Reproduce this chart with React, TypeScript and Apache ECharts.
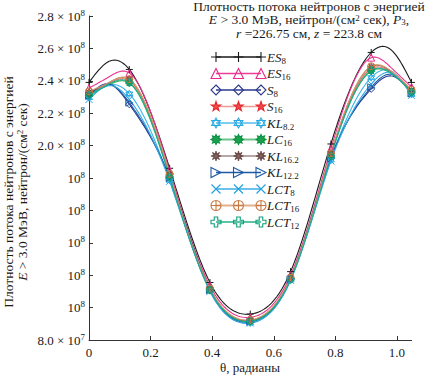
import React, { useEffect, useRef } from 'react';
import * as echarts from 'echarts';

const SERIF = '"Liberation Serif", "Times New Roman", serif';

// θ, radians (marked points every π/24, plus two unmarked curve readings near the peaks)
const theta = [0, 0.0654, 0.1309, 0.2618, 0.3927, 0.5236, 0.6545, 0.7854, 0.9163, 0.9817, 1.0472];
const marked = [true, false, true, true, true, true, true, true, true, false, true];

// Neutron flux density, units of 10^8 neutron/(cm^2 s)
const es8 = [2.39, 2.52, 2.47, 1.86, 1.155, 0.96, 1.222, 2.01, 2.575, 2.59, 2.39];
const es16 = [2.355, 2.425, 2.448, 1.845, 1.135, 0.94, 1.2, 1.98, 2.543, 2.48, 2.362];
const s8 = [2.31, 2.38, 2.255, 1.8, 1.11, 0.915, 1.175, 1.925, 2.35, 2.43, 2.325];
const s16 = [2.325, 2.385, 2.4, 1.82, 1.115, 0.92, 1.18, 1.945, 2.475, 2.45, 2.338];
const kl82 = [2.295, 2.375, 2.32, 1.785, 1.105, 0.905, 1.17, 1.91, 2.42, 2.46, 2.315];
const lc16 = [2.32, 2.375, 2.386, 1.81, 1.11, 0.918, 1.178, 1.94, 2.46, 2.445, 2.335];
const kl162 = [2.33, 2.39, 2.41, 1.82, 1.115, 0.922, 1.182, 1.95, 2.487, 2.455, 2.343];
const kl122 = [2.31, 2.38, 2.265, 1.8, 1.108, 0.912, 1.175, 1.92, 2.36, 2.44, 2.322];
const lct8 = [2.285, 2.37, 2.285, 1.78, 1.1, 0.905, 1.168, 1.905, 2.38, 2.45, 2.31];
const lct16 = [2.335, 2.39, 2.41, 1.825, 1.118, 0.925, 1.185, 1.953, 2.49, 2.46, 2.345];
const lct12 = [2.31, 2.38, 2.39, 1.805, 1.108, 0.915, 1.175, 1.935, 2.465, 2.445, 2.33];

const seriesNames = ['ES8', 'ES16', 'S8', 'S16', 'KL8.2', 'LC16', 'KL16.2', 'KL12.2', 'LCT8', 'LCT16', 'LCT12'];
const legendMain = ['ES', 'ES', 'S', 'S', 'KL', 'LC', 'KL', 'KL', 'LCT', 'LCT', 'LCT'];
const legendSub = ['8', '16', '8', '16', '8.2', '16', '16.2', '12.2', '8', '16', '12'];
const seriesValues = [es8, es16, s8, s16, kl82, lc16, kl162, kl122, lct8, lct16, lct12];

const xTicks = [0, 0.2, 0.4, 0.6, 0.8, 1.0];
const xTickLabels = ['0', '0.2', '0.4', '0.6', '0.8', '1.0'];
const yTicks = [0.8, 1.0, 1.2, 1.4, 1.6, 1.8, 2.0, 2.2, 2.4, 2.6, 2.8];
const yTickLabels = ['8.0 × 10^7', '10^8', '10^8', '10^8', '10^8', '10^8', '2.0 × 10^8', '2.2 × 10^8', '2.4 × 10^8', '2.6 × 10^8', '2.8 × 10^8'];

const titleLines = [
  'Плотность потока нейтронов с энергией',
  '{i|E} > 3.0 МэВ, нейтрон/(см{sup|2} сек), {i|P}{sub|3},',
  '{i|r} =226.75 см, {i|z} = 223.8 см',
];
const yTitleLines = [
  'Плотность потока нейтронов с энергией',
  '{i|E} > 3.0 МэВ, нейтрон/(см{sup|2} сек)',
];
const xTitle = 'θ, радианы';

// ---- natural cubic spline (drawing helper, works on the data arrays) ----
function splineM(x: number[], y: number[]) {
  const n = x.length;
  const M = new Array(n).fill(0);
  if (n < 3) return M;
  const a: number[] = [], b: number[] = [], c: number[] = [], d: number[] = [];
  for (let i = 1; i < n - 1; i++) {
    const h0 = x[i] - x[i - 1];
    const h1 = x[i + 1] - x[i];
    a.push(h0);
    b.push(2 * (h0 + h1));
    c.push(h1);
    d.push(6 * ((y[i + 1] - y[i]) / h1 - (y[i] - y[i - 1]) / h0));
  }
  const m = b.length;
  for (let i = 1; i < m; i++) {
    const w = a[i] / b[i - 1];
    b[i] -= w * c[i - 1];
    d[i] -= w * d[i - 1];
  }
  const sol = new Array(m).fill(0);
  sol[m - 1] = d[m - 1] / b[m - 1];
  for (let i = m - 2; i >= 0; i--) sol[i] = (d[i] - c[i] * sol[i + 1]) / b[i];
  for (let i = 0; i < m; i++) M[i + 1] = sol[i];
  return M;
}

// ---- styles ----
function starPath(n: number, ro: number, ri: number) {
  const pts: string[] = [];
  for (let k = 0; k < 2 * n; k++) {
    const r = k % 2 === 0 ? ro : ri;
    const ang = -Math.PI / 2 + (k * Math.PI) / n;
    pts.push(`${(10 + r * Math.cos(ang)).toFixed(2)} ${(10 + r * Math.sin(ang)).toFixed(2)}`);
  }
  return 'M' + pts.join('L') + 'Z';
}

const SHAPES: Record<string, string> = {
  plus: 'M10 0V20M0 10H20',
  tri: 'M10 0L20 20L0 20Z',
  diamond: 'M10 0L20 10L10 20L0 10Z',
  star5: starPath(5, 10, 4),
  hexa: 'M10 0L18.66 15L1.34 15ZM10 20L1.34 5L18.66 5Z',
  burst: starPath(8, 10, 6),
  aster: starPath(8, 10, 3.5),
  rtri: 'M0 0L20 10L0 20Z',
  xx: 'M1 1L19 19M19 1L1 19',
  oplus: 'M0 10A10 10 0 1 1 20 10A10 10 0 1 1 0 10ZM10 0V20M0 10H20',
  cross: 'M6.5 0H13.5V6.5H20V13.5H13.5V20H6.5V13.5H0V6.5H6.5Z',
};

const STYLES = [
  { shape: 'plus', line: '#1a1a1a', stroke: '#1a1a1a', fill: 'none', lw: 1 },
  { shape: 'tri', line: '#ec3d94', stroke: '#e8288a', fill: 'none', lw: 1 },
  { shape: 'diamond', line: '#2b3990', stroke: '#2b3990', fill: 'none', lw: 1 },
  { shape: 'star5', line: '#f09a94', stroke: '#e8262d', fill: '#ef4b4b', lw: 1 },
  { shape: 'hexa', line: '#7fcdf0', stroke: '#27aae1', fill: 'none', lw: 1.6 },
  { shape: 'burst', line: '#6cc48a', stroke: '#0f9345', fill: '#1aa04e', lw: 1.4 },
  { shape: 'aster', line: '#9c8b89', stroke: '#6b4b47', fill: '#8a6a66', lw: 1.2 },
  { shape: 'rtri', line: '#1c5aa6', stroke: '#1c5aa6', fill: 'none', lw: 1 },
  { shape: 'xx', line: '#6cc2ec', stroke: '#22a0dc', fill: 'none', lw: 1.4 },
  { shape: 'oplus', line: '#e3b08c', stroke: '#c87a45', fill: 'none', lw: 1.4 },
  { shape: 'cross', line: '#58c5a5', stroke: '#0fa07a', fill: 'none', lw: 1.4 },
];
const PLOT_LINE = ['#1a1a1a', '#e9358f', '#2b3990', '#ee6b6b', '#3fb6e8', '#2fae5e', '#8a6a66', '#1c5aa6', '#35a9e3', '#d99a6c', '#1fae88'];

const TXT = '#1a1a1a';
const FS = 13.5;
const rich = {
  i: { fontFamily: SERIF, fontSize: FS, fontStyle: 'italic', color: TXT },
  n: { fontFamily: SERIF, fontSize: 13, lineHeight: 16, color: TXT },
  sub: { fontFamily: SERIF, fontSize: 9, lineHeight: 6, verticalAlign: 'bottom', color: TXT },
  sup: { fontFamily: SERIF, fontSize: 9, lineHeight: 6, verticalAlign: 'top', color: TXT },
};

function tickRich(label: string) {
  const [m, e] = label.split('^');
  return `{n|${m}}{sup|${e}}`;
}

function buildOption() {
  const MS = 10;
  const LX = [216, 238.5, 261];
  const LY0 = 57;
  const LDY = 16.5;
  const legend: any[] = [];
  STYLES.forEach((st, i) => {
    const cy = LY0 + i * LDY;
    legend.push({
      type: 'line',
      shape: { x1: LX[0], y1: cy, x2: LX[2], y2: cy },
      style: { stroke: st.line, lineWidth: st.lw + 0.4 },
      silent: true,
    });
    LX.forEach((cx) => {
      legend.push({
        type: 'mk_' + st.shape,
        x: cx - MS / 2,
        y: cy - MS / 2,
        scaleX: MS / 20,
        scaleY: MS / 20,
        style: { fill: st.fill, stroke: st.stroke, lineWidth: (1.1 * 20) / MS },
        silent: true,
      });
    });
    legend.push({
      type: 'text',
      x: 267,
      y: cy,
      style: {
        text: `{i|${legendMain[i]}}{sub|${legendSub[i]}}`,
        align: 'left',
        verticalAlign: 'middle',
        fontFamily: SERIF,
        fontSize: 13,
        lineHeight: 16,
        fill: TXT,
        rich: { ...rich, i: { ...rich.i, fontSize: 13 } },
      },
      silent: true,
    });
  });

  const lineSeries = seriesValues.map((vals, i) => {
    const M = splineM(theta, vals);
    return {
      type: 'custom',
      name: seriesNames[i],
      clip: false,
      silent: true,
      z: 2 + i,
      data: theta.map((t, k) => [t, vals[k]]),
      renderItem: (params: any, api: any) => {
        const k = params.dataIndex;
        if (k >= theta.length - 1) return null;
        const x0 = theta[k], x1 = theta[k + 1];
        const h = x1 - x0;
        const pts: number[][] = [];
        const N = 24;
        for (let s = 0; s <= N; s++) {
          const t = x0 + (h * s) / N;
          const A = (x1 - t) / h;
          const B = (t - x0) / h;
          const v = A * vals[k] + B * vals[k + 1] + (((A * A * A - A) * M[k] + (B * B * B - B) * M[k + 1]) * h * h) / 6;
          pts.push(api.coord([t, v]));
        }
        return {
          type: 'polyline',
          shape: { points: pts },
          style: { stroke: PLOT_LINE[i], lineWidth: 1.1, fill: 'none' },
        };
      },
    };
  });

  const markerSeries = seriesValues.map((vals, i) => {
    const st = STYLES[i];
    return {
      type: 'scatter',
      name: seriesNames[i],
      data: theta.map((t, k) => [t, vals[k]]).filter((_, k) => marked[k]),
      symbol: 'path://' + SHAPES[st.shape],
      symbolSize: 7,
      itemStyle: { color: st.fill, borderColor: st.stroke, borderWidth: 1, opacity: 1 },
      z: 20 + i,
      silent: true,
    };
  });

  return {
    animation: false,
    backgroundColor: '#ffffff',
    textStyle: { fontFamily: SERIF },
    grid: { left: 89, right: 14.5, top: 16, bottom: 36, containLabel: false, outerBoundsMode: 'none' },
    xAxis: {
      type: 'value',
      min: 0,
      max: Math.PI / 3,
      interval: 0.2,
      splitLine: { show: false },
      axisLine: { lineStyle: { color: '#333', width: 1 } },
      axisTick: { inside: true, length: 4, customValues: xTicks, lineStyle: { color: '#333' } },
      axisLabel: {
        customValues: xTicks,
        margin: 5,
        fontFamily: SERIF,
        fontSize: 13,
        lineHeight: 14,
        color: TXT,
        formatter: (v: number) => {
          const idx = xTicks.findIndex((t) => Math.abs(t - v) < 1e-6);
          return idx >= 0 ? xTickLabels[idx] : '';
        },
      },
    },
    yAxis: {
      type: 'value',
      min: 0.8,
      max: 2.8,
      interval: 0.2,
      splitLine: { show: false },
      axisLine: { lineStyle: { color: '#333', width: 1 } },
      axisTick: { inside: true, length: 4, lineStyle: { color: '#333' } },
      axisLabel: {
        margin: 4,
        fontFamily: SERIF,
        fontSize: 13,
        color: TXT,
        rich,
        formatter: (v: number) => {
          const idx = yTicks.findIndex((t) => Math.abs(t - v) < 1e-6);
          return idx >= 0 ? tickRich(yTickLabels[idx]) : '';
        },
      },
    },
    graphic: [
      {
        type: 'text',
        x: 309,
        y: -0.5,
        style: {
          text: titleLines.join('\n'),
          align: 'center',
          verticalAlign: 'top',
          fontFamily: SERIF,
          fontSize: FS,
          lineHeight: 13.5,
          fill: TXT,
          rich,
        },
        silent: true,
      },
      {
        type: 'text',
        x: 15.5,
        y: 192,
        rotation: Math.PI / 2,
        style: {
          text: yTitleLines.join('\n'),
          align: 'center',
          verticalAlign: 'middle',
          fontFamily: SERIF,
          fontSize: FS,
          lineHeight: 14.5,
          fill: TXT,
          rich,
        },
        silent: true,
      },
      {
        type: 'text',
        x: 250,
        y: 367,
        style: {
          text: xTitle,
          align: 'center',
          verticalAlign: 'middle',
          fontFamily: SERIF,
          fontSize: 13,
          lineHeight: 13,
          fill: TXT,
        },
        silent: true,
      },
      ...legend,
    ],
    series: [...lineSeries, ...markerSeries],
  };
}

export default function App() {
  const ref = useRef<HTMLDivElement>(null);
  useEffect(() => {
    if (!ref.current) return;
    Object.keys(SHAPES).forEach((k) => {
      echarts.graphic.registerShape('mk_' + k, echarts.graphic.extendPath(SHAPES[k], {}));
    });
    const chart = echarts.init(ref.current, null, { renderer: 'svg' });
    chart.setOption(buildOption() as any);
    return () => chart.dispose();
  }, []);
  return <div ref={ref} style={{ position: 'absolute', left: 0, top: 0, width: 426, height: 376 }} />;
}
